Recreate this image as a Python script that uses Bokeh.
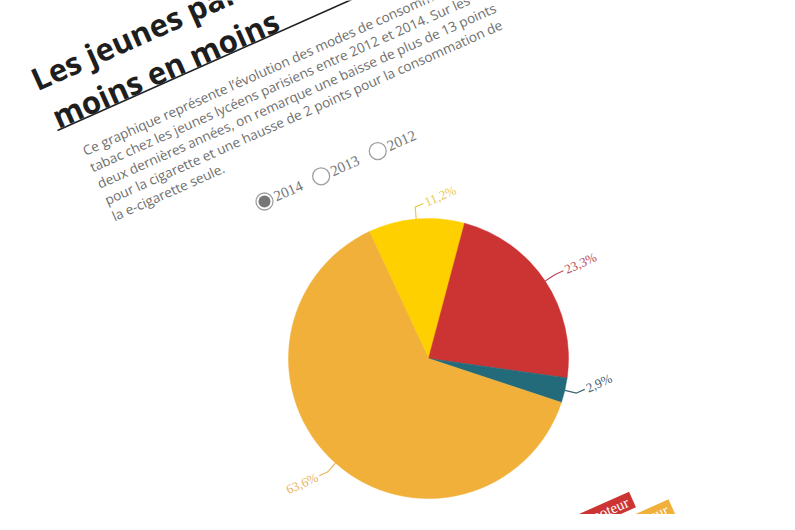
import math
from bokeh.plotting import figure
from bokeh.models import ColumnDataSource, Range1d
from bokeh.core.properties import value
from bokeh.embed import file_html
from bokeh.resources import INLINE

# ---------------- data ----------------
categories = ["Fumeur et vapoteur", "Fumeur et non vapoteur",
              "Vapoteur et non fumeur", "Non fumeur et non vapoteur"]
values_2014 = [11.2, 23.3, 2.9, 63.6]
slice_colors = ["#ffd000", "#cc3333", "#236b7a", "#f0b03a"]
label_colors = ["#ecc94a", "#b84a5c", "#3f6272", "#e8b45a"]
years = ["2014", "2013", "2012"]
selected_year = "2014"
legend_order = [1, 3]

title_lines = ["Les jeunes parisiens fument de", "moins en moins"]
intro_lines = [
    "Ce graphique représente l’évolution des modes de consommation du",
    "tabac chez les jeunes lycéens parisiens entre 2012 et 2014. Sur les",
    "deux dernières années, on remarque une baisse de plus de 13 points",
    "pour la cigarette et une hausse de 2 points pour la consommation de",
    "la e-cigarette seule.",
]

# ---------------- layout helpers ----------------
W, H = 779, 514
ROT = 24.0                      # page rotation (degrees, counter-clockwise)
rot = math.radians(ROT)
UX, UY = math.cos(rot), math.sin(rot)        # page "horizontal" direction
PX, PY = math.sin(rot), -math.cos(rot)       # page "down" direction


def P(X, Y):
    """picture pixel (from top-left) -> data coordinate"""
    return float(X), float(H - Y)


p = figure(width=W, height=H, x_range=Range1d(0, W), y_range=Range1d(0, H),
           x_axis_type=None, y_axis_type=None, toolbar_location=None,
           output_backend="svg", min_border=0)
p.grid.visible = False
p.outline_line_color = None
p.background_fill_color = "white"
p.border_fill_color = "white"

SANS = value("Open Sans")
NARROW = value("Liberation Sans Narrow")

# ---------------- title ----------------
t0 = P(32, 80)
tx, ty = [], []
for i, _ in enumerate(title_lines):
    tx.append(t0[0] + i * (43.0 * PX) + i * 4 * UX)
    ty.append(t0[1] + i * (43.0 * PY) + i * 4 * UY)
p.text(x=tx, y=ty, text=title_lines, angle=rot,
       text_font=SANS, text_font_style="bold", text_font_size="31px",
       text_color="#1e1e1e", text_align="left", text_baseline="alphabetic")

# underline
u0 = P(57, 130)
p.segment(x0=[u0[0]], y0=[u0[1]], x1=[u0[0] + 700 * UX],
          y1=[u0[1] + 700 * UY], line_color="#222222", line_width=1.6)

# ---------------- intro paragraph ----------------
i0 = P(83, 151)
ix, iy = [], []
for i, _ in enumerate(intro_lines):
    ix.append(i0[0] + i * 17.9 * PX)
    iy.append(i0[1] + i * 17.9 * PY)
p.text(x=ix, y=iy, text=intro_lines, angle=rot,
       text_font=SANS, text_font_size="13.5px", text_color="#6e6e6e",
       text_align="left", text_baseline="alphabetic")

# ---------------- year radio buttons ----------------
r0 = P(264, 201)
step = 62.0
rx = [r0[0] + k * step * UX for k in range(len(years))]
ry = [r0[1] + k * step * UY for k in range(len(years))]
sel = [y == selected_year for y in years]
p.scatter(x=rx, y=ry, size=17, marker="circle", fill_color="white",
          line_color="#a0a0a0", line_width=1.3)
p.scatter(x=[x for x, s in zip(rx, sel) if s], y=[y for y, s in zip(ry, sel) if s],
          size=12, marker="circle", fill_color="#777777", line_color=None)
p.text(x=[x + 11 * UX for x in rx], y=[y + 11 * UY for y in ry], text=years,
       angle=rot, text_font=NARROW, text_font_size="15px", text_color="#777777",
       text_align="left", text_baseline="middle")

# ---------------- pie ----------------
cx, cy = P(428, 358)
R = 140.0
total = sum(values_2014)
phi0 = -ROT - 1.0              # start of first slice, clockwise from top (deg)
starts, ends, mids = [], [], []
acc = phi0
for v in values_2014:
    span = v / total * 360.0
    starts.append(acc)
    ends.append(acc + span)
    mids.append(acc + span / 2)
    acc += span

src = ColumnDataSource(dict(
    start=[math.radians(90 - s) for s in starts],
    end=[math.radians(90 - e) for e in ends],
    color=slice_colors, cat=categories, val=values_2014))
p.wedge(x=cx, y=cy, radius=R, start_angle="start", end_angle="end",
        direction="clock", fill_color="color", line_color="color",
        line_width=0.5, source=src)

# data labels with connectors
cxs, cys, lx, ly, ltxt, lal = [], [], [], [], [], []
for v, m in zip(values_2014, mids):
    a = math.radians(m)
    e0 = (cx + R * math.sin(a), cy + R * math.cos(a))
    e1 = (cx + (R + 12) * math.sin(a), cy + (R + 12) * math.cos(a))
    side = 1 if math.sin(math.radians(m + ROT)) >= 0 else -1
    e2 = (e1[0] + side * 9 * UX, e1[1] + side * 9 * UY)
    cxs.append([e0[0], e1[0], e2[0]])
    cys.append([e0[1], e1[1], e2[1]])
    lx.append(e2[0] + side * 2 * UX)
    ly.append(e2[1] + side * 2 * UY)
    ltxt.append(("%.1f%%" % v).replace(".", ","))
    lal.append("left" if side > 0 else "right")

p.multi_line(xs=cxs, ys=cys, line_color=label_colors, line_width=1.2)
lsrc = ColumnDataSource(dict(x=lx, y=ly, t=ltxt, c=label_colors, al=lal))
p.text(x="x", y="y", text="t", text_color="c", text_align="al", source=lsrc,
       angle=rot, text_font=NARROW, text_font_size="13px",
       text_baseline="middle")

# ---------------- legend (partially visible) ----------------
leg_right = P(632, 499)       # right end, middle of first legend box
leg_widths = [128, 152]
bx, by, bw, bc, tx2, ty2, tt = [], [], [], [], [], [], []
for k, idx in enumerate(legend_order):
    rxk = leg_right[0] + k * (23 * PX + 33 * UX)
    ryk = leg_right[1] + k * (23 * PY + 33 * UY)
    w = leg_widths[k]
    bx.append(rxk - w / 2 * UX)
    by.append(ryk - w / 2 * UY)
    bw.append(w)
    bc.append(slice_colors[idx])
    tx2.append(rxk - 5 * UX)
    ty2.append(ryk - 5 * UY)
    tt.append(categories[idx])
p.rect(x=bx, y=by, width=bw, height=17, angle=rot, width_units="screen",
       height_units="screen", fill_color=bc, line_color=None)
p.text(x=tx2, y=ty2, text=tt, angle=rot, text_font=NARROW,
       text_font_size="15px", text_color="white", text_align="right",
       text_baseline="middle")

open("out.html", "w").write(file_html(p, INLINE))
